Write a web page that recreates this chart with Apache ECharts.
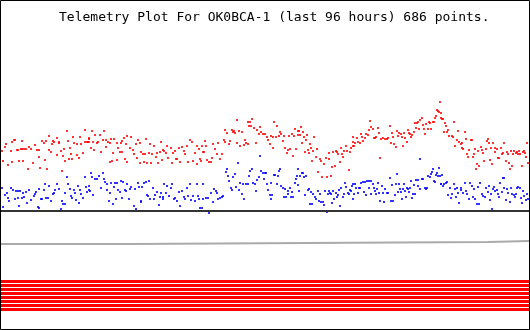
<!DOCTYPE html>
<html><head><meta charset="utf-8">
<script src="https://cdn.jsdelivr.net/npm/echarts@6/dist/echarts.min.js"></script>
<style>html,body{margin:0;padding:0;background:#fff}#c{width:530px;height:330px}</style>
</head><body><div id="c"></div>
<script>
const titleText = 'Telemetry Plot For OK0BCA-1 (last 96 hours) 686 points.';
// [time step, raw reading] (raw scale grows downward)
const redPoints = [
[2,151],[3,161],[5,147],[6,144],[8,165],[11,151],[12,162],[12,142],[14,140],[15,140],[17,150],[18,150],[19,161],[21,149],[22,149],[22,141],[23,161],[24,149],[26,149],[28,169],[29,147],[31,149],[33,163],[35,145],[37,150],[39,150],[39,157],[40,168],[42,141],[44,143],[45,160],[46,141],[47,169],[49,150],[49,136],[51,152],[52,144],[53,141],[54,142],[57,155],[57,138],[59,143],[59,142],[61,151],[62,171],[63,156],[64,149],[65,161],[67,131],[68,141],[69,159],[70,148],[71,154],[72,159],[73,137],[74,143],[77,144],[77,155],[79,158],[80,137],[81,144],[83,153],[85,142],[85,130],[87,142],[88,142],[89,138],
[92,131],[95,135],[100,135],[104,131],[89,139],[89,142],[91,148],[93,142],[94,150],[97,143],[98,142],[101,152],[103,140],[106,140],[106,147],[108,142],[110,143],[111,139],[114,139],[113,153],[110,162],[112,161],[117,143],[118,148],[120,152],[122,152],[117,160],[121,143],[122,141],[124,138],[126,144],[127,136],[125,159],[127,162],[130,148],[131,137],[133,150],[134,154],[136,144],[137,158],[138,140],[140,143],[140,163],[141,152],[143,154],[144,162],[145,154],[146,139],[147,163],[149,153],[150,144],[151,163],[152,154],[154,146],[156,157],[157,153],[158,163],[160,152],[161,142],[162,160],[163,150],[164,151],[166,153],[167,146],[168,158],[171,148],[172,163],[173,153],[175,151],[176,159],
[177,159],[179,148],[180,162],[182,147],[184,151],[185,154],[187,146],[188,162],[190,140],[192,142],[193,161],[195,153],[197,146],[197,164],[199,149],[200,159],[201,161],[202,146],[203,152],[204,152],[205,141],[206,146],[207,160],[209,162],[211,162],[212,158],[213,144],[215,149],[217,154],[218,143],[220,159],[222,154],[224,140],[225,130],[225,142],[227,133],[229,144],[230,141],[232,130],[233,132],[234,131],[235,133],[237,120],[237,143],[239,131],[240,146],[242,132],[244,145],[245,140],[246,143],[248,144],[248,122],[249,126],[250,122],[251,126],[252,119],[254,128],[256,143],[257,130],[259,134],[260,127],[261,132],[263,134],[265,134],
[267,137],[268,140],[270,144],[271,136],[273,148],[273,137],[274,122],[276,137],[277,126],[279,136],[280,132],[281,134],[283,141],[284,136],[285,148],[287,153],[288,150],[289,136],[290,149],[292,134],[293,156],[294,136],[295,129],[296,149],[298,131],[298,135],[299,131],[300,135],[301,127],[302,143],[303,132],[304,137],[305,152],[306,140],[307,135],[308,150],[309,153],[310,144],[311,148],[312,161],[313,151],[314,137],[316,157],[317,149],[318,172],[320,159],[321,161],[322,177],[324,164],[326,158],[327,177],[329,159],[329,153],[331,176],[332,167],[333,152],[335,166],[336,151],[337,152],[338,154],[340,162],[341,148],[342,154],[343,157],[344,151],[346,146],[347,151],[349,170],[350,152],[351,148],[353,142],[353,146],
[353,137],[354,146],[355,143],[357,138],[358,142],[360,143],[361,134],[362,137],[363,141],[365,138],[366,134],[368,135],[369,130],[370,121],[371,127],[373,129],[374,138],[375,138],[376,137],[378,128],[379,133],[380,158],[381,139],[383,138],[385,139],[387,139],[388,138],[390,126],[391,143],[392,133],[393,137],[394,144],[396,147],[397,131],[398,136],[399,133],[401,134],[402,137],[403,146],[404,133],[405,138],[407,142],[408,130],[409,133],[410,134],[411,137],[412,135],[414,132],[415,123],[416,128],[417,123],[418,122],[419,129],[420,120],[422,118],[423,125],[424,129],[425,134],[426,124],[428,129],[429,122],[430,123],[431,129],[433,122],[434,122],[435,118],[436,116],[437,110],[438,111],[439,112],[440,102],[441,118],
[441,113],[442,119],[443,119],[445,123],[446,126],[444,132],[447,132],[448,130],[449,136],[452,136],[453,137],[454,122],[455,146],[457,140],[458,131],[459,142],[461,144],[462,143],[462,148],[463,149],[465,132],[466,139],[467,154],[468,157],[469,150],[471,140],[472,140],[473,157],[474,154],[475,149],[476,169],[477,164],[478,151],[479,166],[481,147],[482,150],[483,153],[484,161],[486,149],[487,141],[488,139],[489,143],[490,160],[491,148],[492,164],[493,143],[495,148],[495,152],[497,149],[498,158],[499,158],[501,148],[502,154],[503,153],[504,143],[506,161],[507,152],[508,154],[509,163],[510,169],[511,151],[512,166],[513,154],[514,151],[516,153],[517,152],[518,154],[519,151],[520,154],[522,166],[523,152],[524,151],[525,153],[526,157],[527,143],[528,163]
];
const bluePoints = [
[2,188],[3,207],[5,195],[7,193],[8,198],[9,201],[11,188],[13,190],[15,199],[16,191],[18,191],[20,191],[18,198],[19,206],[22,198],[23,193],[24,197],[26,192],[27,203],[29,190],[31,200],[34,196],[35,194],[36,192],[38,207],[39,208],[39,189],[41,199],[42,199],[44,190],[45,184],[46,198],[48,198],[49,186],[51,201],[53,194],[54,193],[55,190],[57,184],[59,189],[61,209],[62,201],[63,204],[65,204],[65,193],[67,177],[68,184],[70,189],[71,196],[72,198],[74,190],[75,193],[76,200],[78,186],[79,203],[80,190],[81,194],[83,198],[85,177],[86,187],[87,192],[89,190],[89,186],
[91,173],[92,177],[95,179],[97,179],[90,191],[93,195],[103,173],[99,176],[101,188],[104,179],[105,182],[107,184],[107,190],[109,201],[110,193],[111,183],[115,183],[113,204],[114,187],[116,199],[117,183],[118,190],[120,192],[121,181],[123,182],[122,198],[125,190],[126,191],[127,184],[129,199],[130,189],[131,187],[134,206],[135,189],[136,209],[138,183],[139,187],[141,201],[141,202],[142,187],[144,183],[146,182],[147,195],[148,196],[149,181],[150,199],[153,188],[154,199],[155,195],[157,192],[159,205],[160,197],[161,193],[163,197],[163,199],[164,184],[166,193],[167,186],[169,196],[171,188],[172,184],[174,199],[175,198],[177,201],
[179,192],[180,206],[182,191],[184,197],[185,199],[187,188],[188,196],[190,184],[191,200],[193,196],[195,201],[197,184],[198,196],[199,199],[200,208],[202,208],[203,184],[203,199],[206,198],[208,198],[209,213],[211,193],[213,202],[214,189],[216,191],[217,193],[218,199],[220,198],[222,197],[223,196],[226,172],[227,169],[228,176],[229,181],[231,188],[232,190],[233,177],[235,174],[236,187],[238,163],[239,190],[240,183],[242,194],[243,184],[244,199],[246,184],[248,184],[249,176],[250,171],[252,169],[253,183],[255,184],[256,191],[257,180],[259,177],[260,156],[261,171],[263,173],[264,179],[265,173],
[266,173],[267,184],[268,190],[270,195],[271,199],[271,183],[272,195],[274,175],[275,175],[277,184],[278,176],[279,171],[280,169],[281,186],[283,188],[284,197],[285,189],[286,197],[288,191],[288,194],[290,188],[291,197],[292,192],[293,197],[295,183],[296,179],[297,176],[298,185],[298,169],[299,191],[300,176],[302,173],[303,173],[304,177],[305,195],[306,176],[308,190],[309,189],[310,204],[311,192],[312,204],[313,194],[315,197],[316,199],[318,191],[319,201],[320,194],[321,202],[323,202],[324,205],[325,191],[327,212],[328,194],[329,191],[330,193],[331,194],[332,203],[333,191],[334,199],[336,193],[337,197],[338,195],[339,190],[340,206],[341,188],[343,197],[344,194],[345,183],[346,187],[348,193],[349,194],[350,190],[351,191],[352,186],[353,199],
[353,184],[354,194],[355,184],[356,188],[358,193],[359,188],[360,188],[361,183],[363,182],[364,192],[365,182],[366,195],[367,181],[369,181],[369,188],[371,181],[371,194],[373,184],[374,188],[375,191],[376,194],[377,189],[378,183],[379,193],[380,201],[382,186],[383,193],[384,202],[385,189],[387,193],[388,193],[390,178],[391,201],[392,185],[393,201],[395,195],[396,184],[397,174],[398,192],[399,184],[400,189],[401,192],[402,199],[403,189],[404,184],[405,191],[406,197],[407,188],[408,189],[409,192],[410,188],[411,181],[412,198],[413,194],[414,185],[415,194],[416,180],[418,186],[418,180],[420,159],[420,189],[422,179],[423,179],[425,188],[426,189],[427,188],[428,176],[430,177],[431,174],[432,172],[433,169],[434,181],[435,182],[436,175],[437,173],[438,176],[439,168],[440,176],[441,184],
[442,175],[441,184],[443,186],[444,184],[446,183],[447,182],[448,195],[450,188],[451,198],[452,194],[454,184],[455,189],[456,197],[457,188],[458,193],[459,203],[461,190],[461,188],[463,193],[465,183],[466,191],[467,194],[469,199],[470,183],[472,186],[473,197],[474,189],[475,199],[477,204],[478,187],[479,204],[480,183],[482,194],[483,196],[485,197],[486,188],[488,192],[489,186],[490,200],[491,194],[492,209],[493,189],[494,187],[495,191],[497,190],[498,194],[499,197],[500,183],[502,192],[503,178],[504,178],[504,188],[506,200],[507,189],[508,193],[510,202],[511,188],[512,194],[514,195],[515,197],[516,194],[517,188],[518,187],[520,188],[521,198],[522,203],[523,191],[524,196],[526,200],[527,194],[528,199]
];
const baselineLevel = 211;
const counterSteps = [[1,244],[131,243],[307,242],[488,241],[529,241]];
const bitLevels = [281.5, 285.5, 289.5, 293.5, 297.5, 301.5, 305.5, 309.5];
const bitStates = [1,1,1,1,1,1,1,1];
const timeStart = 1, timeEnd = 529;

const chart = echarts.init(document.getElementById('c'), null, {renderer:'canvas'});
const series = [];
bitLevels.forEach((lvl, i) => {
  if (!bitStates[i]) return;
  series.push({type:'line', data:[[timeStart,lvl],[timeEnd,lvl]], symbol:'none', silent:true,
    lineStyle:{color:'#ff0000', width:3}});
});
series.push({type:'line', step:'end', data:counterSteps, symbol:'none', silent:true,
  lineStyle:{color:'#aaaaaa', width:2}});
series.push({type:'line', data:[[timeStart,baselineLevel],[timeEnd,baselineLevel]], symbol:'none', silent:true,
  lineStyle:{color:'#333333', width:2}});
series.push({type:'scatter', data:redPoints, symbol:'rect', symbolSize:[2,2],
  itemStyle:{color:'#ff0000'}});
series.push({type:'scatter', data:bluePoints, symbol:'rect', symbolSize:[2,2],
  itemStyle:{color:'#0000ff'}});

chart.setOption({
  animation:false,
  backgroundColor:'#ffffff',
  title:{text:titleText, left:59, top:11, padding:0,
    textStyle:{fontFamily:'DejaVu Sans Mono', fontSize:13, fontWeight:'normal', color:'#000'}},
  grid:{left:0, right:0, top:0, bottom:0},
  xAxis:{type:'value', min:0, max:530, show:false},
  yAxis:{type:'value', min:0, max:330, inverse:true, show:false},
  graphic:[{type:'rect', shape:{x:0.5, y:0.5, width:529, height:329}, style:{fill:null, stroke:'#000', lineWidth:1}, silent:true}],
  series:series
});
</script>
</body></html>
